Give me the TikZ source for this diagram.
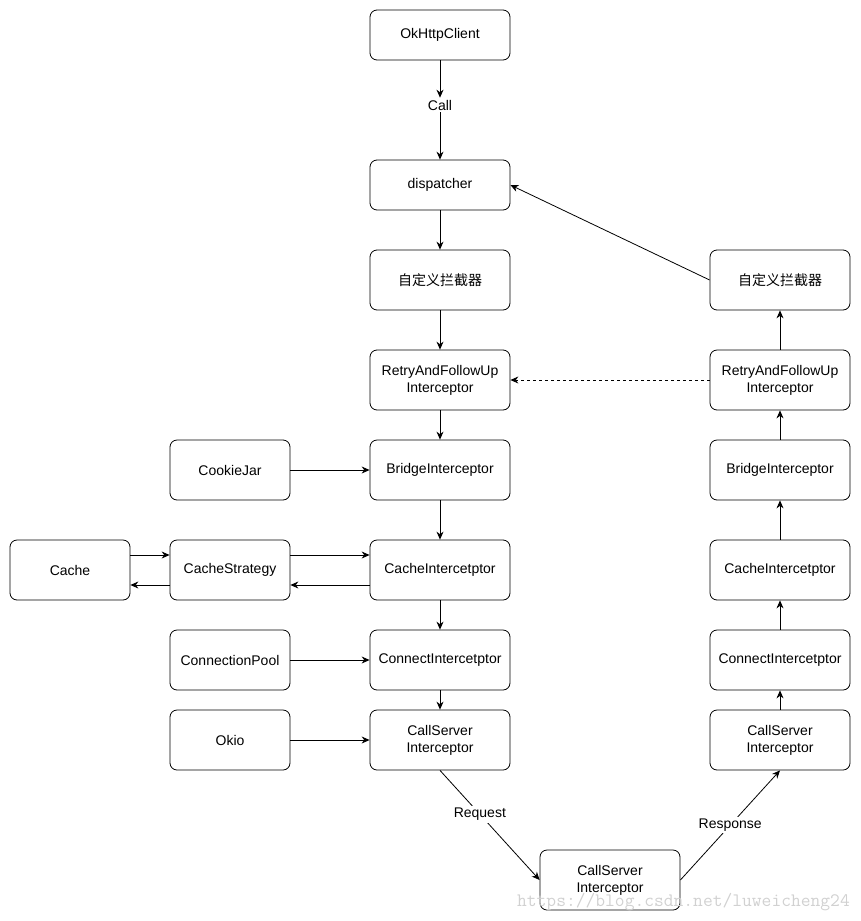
\documentclass[tikz,border=0pt]{standalone}
\usepackage{fontspec}
\setmainfont{Liberation Sans}
\newfontfamily\cjk{Noto Sans CJK SC}
\usetikzlibrary{arrows.meta}
\begin{document}
\begin{tikzpicture}[x=1pt,y=-1pt,
  box/.style={draw,rounded corners=7pt,minimum width=140pt,minimum height=60pt,align=center,font=\fontsize{14}{17}\selectfont,line width=0.8pt,inner sep=1pt},
  sbox/.style={box,minimum width=120pt},
  arr/.style={-{Stealth[length=8pt,width=7pt]},line width=0.8pt},
  lab/.style={font=\fontsize{14}{17}\selectfont,fill=white,inner sep=2pt}]
\useasboundingbox (0,0) rectangle (861,921);
% left column
\node[box,minimum height=50pt] (ok) at (440,35) {OkHttpClient};
\node[lab] (call) at (440,105) {Call};
\node[box,minimum height=50pt] (disp) at (440,185) {dispatcher};
\node[box] (cusL) at (440,280) {{\cjk 自定义拦截器}};
\node[box] (retL) at (440,380) {RetryAndFollowUp\\Interceptor};
\node[box] (briL) at (440,470) {BridgeInterceptor};
\node[box] (cacL) at (440,570) {CacheIntercetptor};
\node[box] (conL) at (440,660) {ConnectIntercetptor};
\node[box] (csL) at (440,740) {CallServer\\Interceptor};
% right column
\node[box] (cusR) at (780,280) {{\cjk 自定义拦截器}};
\node[box] (retR) at (780,380) {RetryAndFollowUp\\Interceptor};
\node[box] (briR) at (780,470) {BridgeInterceptor};
\node[box] (cacR) at (780,570) {CacheIntercetptor};
\node[box] (conR) at (780,660) {ConnectIntercetptor};
\node[box] (csR) at (780,740) {CallServer\\Interceptor};
% bottom
\node[box] (csB) at (610,880) {CallServer\\Interceptor};
% side
\node[sbox] (cookie) at (230,470) {CookieJar};
\node[sbox] (cache) at (70,570) {Cache};
\node[sbox] (strat) at (230,570) {CacheStrategy};
\node[sbox] (pool) at (230,660) {ConnectionPool};
\node[sbox] (okio) at (230,740) {Okio};
% watermark
\node[font=\ttfamily\fontsize{19}{20}\selectfont,text=black!18,anchor=east,inner sep=0pt] (wm) at (850,902) {https://blog.csdn.net/luweicheng24};
% connectors
\draw[arr] (ok) -- (call);
\draw[arr] (call) -- (disp);
\draw[arr] (disp) -- (cusL);
\draw[arr] (cusL) -- (retL);
\draw[arr] (retL) -- (briL);
\draw[arr] (briL) -- (cacL);
\draw[arr] (cacL) -- (conL);
\draw[arr] (conL) -- (csL);
\draw[arr] (csR) -- (conR);
\draw[arr] (conR) -- (cacR);
\draw[arr] (cacR) -- (briR);
\draw[arr] (briR) -- (retR);
\draw[arr] (retR) -- (cusR);
\draw[arr] (cusR.west) -- (disp.east);
\draw[arr,dashed] (retR) -- (retL);
\draw[arr] (cookie) -- (briL);
\draw[arr] (pool) -- (conL);
\draw[arr] (okio) -- (csL);
\draw[arr] ([yshift=15pt]cache.east) -- ([yshift=15pt]strat.west);
\draw[arr] ([yshift=-15pt]strat.west) -- ([yshift=-15pt]cache.east);
\draw[arr] ([yshift=15pt]strat.east) -- ([yshift=15pt]cacL.west);
\draw[arr] ([yshift=-15pt]cacL.west) -- ([yshift=-15pt]strat.east);
\draw[arr] (csL.south) -- node[lab,pos=0.4]{Request} (csB.west);
\draw[arr] (csB.east) -- node[lab,pos=0.5]{Response} (csR.south);
\end{tikzpicture}
\end{document}
